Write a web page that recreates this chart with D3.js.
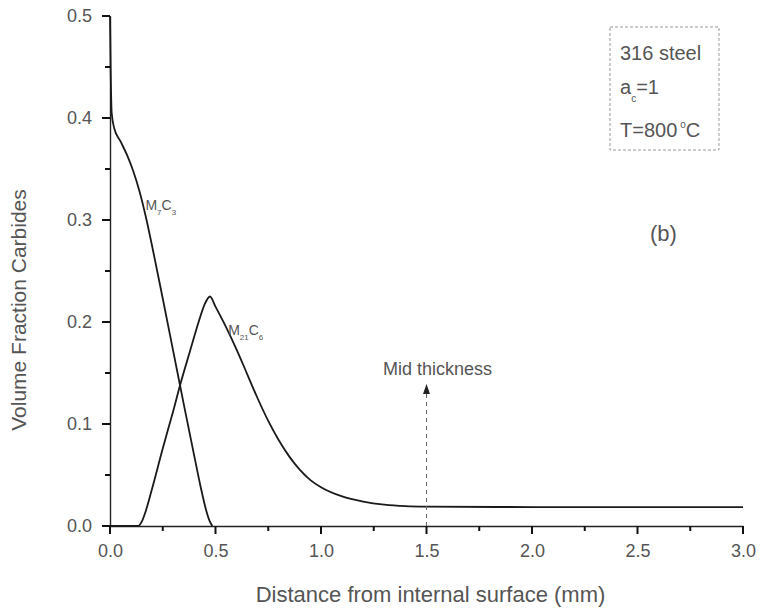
<!DOCTYPE html>
<html>
<head>
<meta charset="utf-8">
<script src="https://cdn.jsdelivr.net/npm/d3@7"></script>
<style>
  body { margin: 0; background: #fff; }
  svg { display: block; }
  text { font-family: "Liberation Sans", Arial, sans-serif; fill: #555; }
</style>
</head>
<body>
<svg id="chart" width="760" height="609"></svg>
<script>
// values (distance in mm, volume fraction)
var m7c3X = [0, 0.003, 0.008, 0.02, 0.05, 0.08, 0.11, 0.14, 0.17, 0.2, 0.25, 0.3, 0.35, 0.4, 0.43, 0.455, 0.472, 0.485];
var m7c3Y = [0.5, 0.45, 0.405, 0.39, 0.377, 0.364, 0.348, 0.328, 0.303, 0.274, 0.223, 0.171, 0.119, 0.068, 0.038, 0.016, 0.005, 0];

var m21c6X = [0, 0.133, 0.15, 0.17, 0.2, 0.25, 0.3, 0.332, 0.38, 0.42, 0.45, 0.474, 0.5, 0.55, 0.6, 0.65, 0.7, 0.75, 0.8, 0.85, 0.9, 0.95, 1.0, 1.1, 1.2, 1.3, 1.4, 1.5, 2.0, 2.5, 3.0];
var m21c6Y = [0, 0, 0.004, 0.015, 0.037, 0.076, 0.113, 0.138, 0.172, 0.2, 0.218, 0.225, 0.215, 0.195, 0.173, 0.149, 0.125, 0.103, 0.084, 0.068, 0.055, 0.045, 0.038, 0.029, 0.024, 0.021, 0.0195, 0.019, 0.0186, 0.0186, 0.0186];

var xTicks = [0, 0.5, 1.0, 1.5, 2.0, 2.5, 3.0];
var yTicks = [0, 0.1, 0.2, 0.3, 0.4, 0.5];
var xMinorTicks = [0.25, 0.75, 1.25, 1.75, 2.25, 2.75];
var yMinorTicks = [0.05, 0.15, 0.25, 0.35, 0.45];
var midThickness = 1.5;

var svg = d3.select("#chart");
// plot area edges (window.top is read-only, so no bare "top")
var padL = 110, padR = 743, padT = 16, padB = 526;

var x = d3.scaleLinear().domain([0, 3]).range([padL, padR]);
var y = d3.scaleLinear().domain([0, 0.5]).range([padB, padT]);

// axis lines + tick labels from d3.axis
var xAxis = d3.axisBottom(x).tickValues(xTicks).tickSize(0).tickSizeOuter(0).tickPadding(18).tickFormat(d3.format(".1f"));
var yAxis = d3.axisLeft(y).tickValues(yTicks).tickSize(0).tickSizeOuter(0).tickPadding(18).tickFormat(d3.format(".1f"));

function styleAxis(g) {
  g.select(".domain").attr("stroke", "#222").attr("stroke-width", 1.4);
  g.selectAll(".tick text").style("font-size", "18px").attr("fill", "#555");
}
svg.append("g").attr("transform", "translate(0," + padB + ")").call(xAxis).call(styleAxis);
svg.append("g").attr("transform", "translate(" + padL + ",0)").call(yAxis).call(styleAxis);

// axis titles
svg.append("text")
  .attr("x", (padL + padR) / 2 + 4).attr("y", 602)
  .attr("text-anchor", "middle")
  .style("font-size", "22px")
  .text("Distance from internal surface (mm)");

svg.append("text")
  .attr("transform", "translate(26,310) rotate(-90)")
  .attr("text-anchor", "middle")
  .style("font-size", "21px")
  .text("Volume Fraction Carbides");

// curves
var line = d3.line()
  .x(function(d) { return x(d[0]); })
  .y(function(d) { return y(d[1]); })
  .curve(d3.curveMonotoneX);

var series = [d3.zip(m7c3X, m7c3Y), d3.zip(m21c6X, m21c6Y)];
svg.selectAll("path.curve").data(series).enter().append("path")
  .attr("class", "curve")
  .attr("d", line)
  .attr("fill", "none")
  .attr("stroke", "#1a1a1a")
  .attr("stroke-width", 1.8);

// curve labels with subscripts
function carbide(px, py, m, c) {
  var t = svg.append("text").attr("x", px).attr("y", py).style("font-size", "14px").attr("fill", "#666");
  t.append("tspan").text("M");
  t.append("tspan").attr("dy", 5).style("font-size", "8px").text(m);
  t.append("tspan").attr("dy", -5).text("C");
  t.append("tspan").attr("dy", 5).style("font-size", "8px").text(c);
}
carbide(x(0.168), y(0.31), "7", "3");
carbide(x(0.56), y(0.187), "21", "6");

// mid thickness marker
svg.append("line")
  .attr("x1", x(midThickness)).attr("x2", x(midThickness))
  .attr("y1", 394).attr("y2", padB)
  .attr("stroke", "#666").attr("stroke-width", 1)
  .attr("stroke-dasharray", "4,4");
svg.append("path")
  .attr("d", "M" + x(midThickness) + ",384 l-3.5,10 l7,0 z")
  .attr("fill", "#222");
svg.append("text")
  .attr("x", 383).attr("y", 375)
  .style("font-size", "18px")
  .attr("fill", "#444")
  .text("Mid thickness");

// info box
svg.append("rect")
  .attr("x", 610).attr("y", 27).attr("width", 109).attr("height", 123)
  .attr("fill", "none").attr("stroke", "#999").attr("stroke-dasharray", "3,2");

svg.append("text").attr("x", 620).attr("y", 60).style("font-size", "20px").text("316 steel");

var ac = svg.append("text").attr("x", 620).attr("y", 94).style("font-size", "20px");
ac.append("tspan").text("a");
ac.append("tspan").attr("dy", 8).style("font-size", "10px").text("c");
ac.append("tspan").attr("dy", -8).text("=1");

var tc = svg.append("text").attr("x", 620).attr("y", 137).style("font-size", "20px");
tc.append("tspan").text("T=800");
tc.append("tspan").attr("dy", -9).attr("dx", 3).style("font-size", "10px").text("o");
tc.append("tspan").attr("dy", 9).text("C");

// panel label
svg.append("text").attr("x", 650).attr("y", 241).style("font-size", "22px").attr("fill", "#333").text("(b)");

// tick marks drawn last as plain lines, pointing outward
var ticks = svg.append("g").attr("stroke", "#111").attr("stroke-width", 2);
ticks.selectAll("line.xt").data(xTicks.concat(xMinorTicks)).enter().append("line")
  .attr("class", "xt")
  .attr("x1", function(d) { return x(d); }).attr("x2", function(d) { return x(d); })
  .attr("y1", padB)
  .attr("y2", function(d) { return padB + (xTicks.indexOf(d) >= 0 ? 8 : 5); });
ticks.selectAll("line.yt").data(yTicks.concat(yMinorTicks)).enter().append("line")
  .attr("class", "yt")
  .attr("y1", function(d) { return y(d); }).attr("y2", function(d) { return y(d); })
  .attr("x1", padL)
  .attr("x2", function(d) { return padL - (yTicks.indexOf(d) >= 0 ? 8 : 5); });
</script>
</body>
</html>
